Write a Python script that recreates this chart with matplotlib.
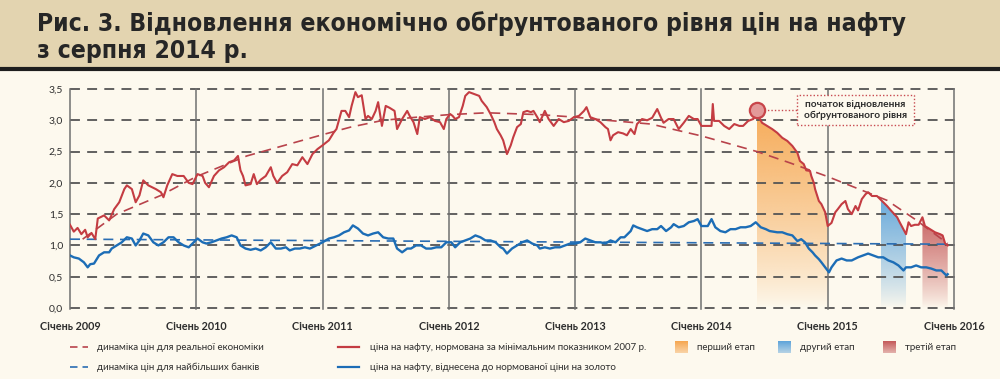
import numpy as np
import matplotlib
matplotlib.use("Agg")
import matplotlib.pyplot as plt
import matplotlib.colors as mcolors
from matplotlib.patches import Polygon, Rectangle

# ціна на нафту, нормована за мінімальним показником 2007 р.
oil_years = [
    2009.00, 2009.03, 2009.06, 2009.09, 2009.12, 2009.14, 2009.17, 2009.20, 2009.22, 2009.27,
    2009.31, 2009.35, 2009.39, 2009.43, 2009.45, 2009.49, 2009.52, 2009.55, 2009.58, 2009.62,
    2009.68, 2009.72, 2009.74, 2009.77, 2009.81, 2009.85, 2009.90, 2009.94, 2009.97, 2010.01,
    2010.05, 2010.07, 2010.10, 2010.14, 2010.18, 2010.22, 2010.26, 2010.30, 2010.33, 2010.35,
    2010.37, 2010.39, 2010.43, 2010.455, 2010.48, 2010.51, 2010.55, 2010.59, 2010.61, 2010.64,
    2010.68, 2010.72, 2010.76, 2010.80, 2010.84, 2010.88, 2010.92, 2010.96, 2011.00, 2011.05,
    2011.09, 2011.11, 2011.15, 2011.18, 2011.21, 2011.23, 2011.26, 2011.28, 2011.31, 2011.34,
    2011.36, 2011.39, 2011.42, 2011.44, 2011.47, 2011.50, 2011.53, 2011.57, 2011.59, 2011.63,
    2011.67, 2011.69, 2011.72, 2011.75, 2011.77, 2011.81, 2011.85, 2011.89, 2011.93, 2011.96,
    2011.98, 2012.01, 2012.03, 2012.05, 2012.08, 2012.11, 2012.13, 2012.16, 2012.20, 2012.24,
    2012.26, 2012.30, 2012.33, 2012.36, 2012.38, 2012.41, 2012.43, 2012.46, 2012.49, 2012.51,
    2012.54, 2012.57, 2012.59, 2012.62, 2012.65, 2012.67, 2012.70, 2012.72, 2012.76, 2012.79,
    2012.83, 2012.87, 2012.91, 2012.95, 2012.99, 2013.03, 2013.07, 2013.09, 2013.12, 2013.16,
    2013.20, 2013.24, 2013.26, 2013.28, 2013.30, 2013.34, 2013.38, 2013.41, 2013.44, 2013.47,
    2013.49, 2013.53, 2013.57, 2013.61, 2013.65, 2013.68, 2013.70, 2013.74, 2013.78, 2013.82,
    2013.86, 2013.90, 2013.94, 2013.97, 2014.00, 2014.05, 2014.08, 2014.09, 2014.10, 2014.14,
    2014.18, 2014.22, 2014.26, 2014.30, 2014.33, 2014.37, 2014.41, 2014.44, 2014.48, 2014.52,
    2014.56, 2014.60, 2014.64, 2014.68, 2014.72, 2014.76, 2014.78, 2014.81, 2014.83, 2014.86,
    2014.87, 2014.89, 2014.90, 2014.93, 2014.95, 2014.98, 2015.00, 2015.03, 2015.06, 2015.08,
    2015.11, 2015.14, 2015.16, 2015.19, 2015.22, 2015.24, 2015.27, 2015.30, 2015.32, 2015.35,
    2015.39, 2015.42, 2015.47, 2015.50, 2015.55, 2015.57, 2015.62, 2015.64, 2015.66, 2015.69,
    2015.72, 2015.75, 2015.77, 2015.81, 2015.85, 2015.89, 2015.91, 2015.93, 2015.95,
]
oil_values = [
    1.33, 1.22, 1.28, 1.18, 1.25, 1.13, 1.20, 1.10, 1.43, 1.48,
    1.40, 1.58, 1.69, 1.90, 1.96, 1.90, 1.69, 1.80, 2.04, 1.96,
    1.90, 1.85, 1.77, 1.96, 2.14, 2.11, 2.11, 2.00, 1.98, 2.14,
    2.11, 2.00, 1.93, 2.11, 2.20, 2.25, 2.33, 2.36, 2.43, 2.20,
    2.11, 1.96, 1.98, 2.14, 1.98, 2.05, 2.11, 2.25, 2.11, 2.00,
    2.11, 2.17, 2.30, 2.28, 2.41, 2.30, 2.46, 2.54, 2.60, 2.68,
    2.81, 2.86, 3.15, 3.15, 3.05, 3.23, 3.45, 3.37, 3.40, 3.02,
    3.07, 3.02, 3.15, 3.29, 2.91, 3.23, 3.20, 3.15, 2.86, 3.02,
    3.15, 3.07, 2.97, 2.78, 3.05, 3.02, 3.05, 2.99, 2.97, 2.86,
    3.02, 3.10, 3.07, 3.02, 3.05, 3.23, 3.39, 3.45, 3.42, 3.39,
    3.31, 3.21, 3.10, 2.97, 2.86, 2.76, 2.68, 2.46, 2.60, 2.73,
    2.89, 2.94, 3.13, 3.15, 3.13, 3.15, 3.05, 2.97, 3.15, 3.02,
    2.91, 3.02, 2.97, 2.99, 3.05, 3.07, 3.15, 3.21, 3.05, 3.02,
    2.97, 2.89, 2.86, 2.68, 2.76, 2.81, 2.79, 2.76, 2.86, 2.78,
    2.94, 3.02, 3.00, 3.04, 3.18, 3.04, 2.96, 3.02, 3.02, 2.86,
    2.96, 3.07, 3.02, 3.02, 2.91, 2.91, 2.91, 3.26, 2.99, 2.99,
    2.91, 2.86, 2.94, 2.91, 2.91, 2.99, 3.02, 3.10, 2.96, 2.91,
    2.86, 2.80, 2.72, 2.67, 2.59, 2.48, 2.35, 2.30, 2.20, 2.19,
    2.11, 2.00, 1.90, 1.71, 1.66, 1.53, 1.31, 1.36, 1.53, 1.58,
    1.66, 1.71, 1.58, 1.50, 1.63, 1.56, 1.74, 1.82, 1.85, 1.79,
    1.79, 1.73, 1.63, 1.56, 1.45, 1.37, 1.18, 1.37, 1.31, 1.33,
    1.33, 1.45, 1.31, 1.26, 1.21, 1.18, 1.16, 1.03, 1.00,
]

# ціна на нафту, віднесена до нормованої ціни на золото
gold_years = [
    2009.00, 2009.03, 2009.07, 2009.11, 2009.14, 2009.16, 2009.19, 2009.23, 2009.27, 2009.31,
    2009.33, 2009.37, 2009.41, 2009.45, 2009.49, 2009.52, 2009.55, 2009.58, 2009.62, 2009.66,
    2009.70, 2009.74, 2009.78, 2009.82, 2009.86, 2009.90, 2009.94, 2009.98, 2010.01, 2010.05,
    2010.08, 2010.12, 2010.16, 2010.20, 2010.24, 2010.28, 2010.32, 2010.35, 2010.39, 2010.43,
    2010.47, 2010.51, 2010.55, 2010.59, 2010.63, 2010.67, 2010.71, 2010.74, 2010.78, 2010.82,
    2010.86, 2010.90, 2010.95, 2011.00, 2011.05, 2011.09, 2011.13, 2011.17, 2011.21, 2011.24,
    2011.28, 2011.32, 2011.36, 2011.40, 2011.44, 2011.48, 2011.52, 2011.56, 2011.59, 2011.63,
    2011.67, 2011.70, 2011.74, 2011.78, 2011.82, 2011.86, 2011.90, 2011.94, 2011.98, 2012.02,
    2012.05, 2012.09, 2012.13, 2012.17, 2012.21, 2012.25, 2012.29, 2012.33, 2012.37, 2012.41,
    2012.43, 2012.46, 2012.50, 2012.54, 2012.58, 2012.62, 2012.66, 2012.70, 2012.72, 2012.76,
    2012.80, 2012.84, 2012.88, 2012.92, 2012.96, 2013.00, 2013.04, 2013.08, 2013.12, 2013.16,
    2013.20, 2013.24, 2013.28, 2013.32, 2013.36, 2013.39, 2013.44, 2013.46, 2013.49, 2013.53,
    2013.57, 2013.61, 2013.65, 2013.68, 2013.72, 2013.76, 2013.78, 2013.82, 2013.86, 2013.90,
    2013.94, 2013.97, 2014.00, 2014.05, 2014.08, 2014.11, 2014.15, 2014.19, 2014.23, 2014.27,
    2014.31, 2014.35, 2014.39, 2014.43, 2014.47, 2014.51, 2014.54, 2014.60, 2014.64, 2014.68,
    2014.72, 2014.76, 2014.79, 2014.82, 2014.85, 2014.88, 2014.90, 2014.93, 2014.95, 2014.98,
    2015.01, 2015.03, 2015.07, 2015.11, 2015.15, 2015.19, 2015.24, 2015.28, 2015.32, 2015.36,
    2015.40, 2015.44, 2015.48, 2015.52, 2015.56, 2015.60, 2015.62, 2015.66, 2015.70, 2015.74,
    2015.78, 2015.82, 2015.86, 2015.90, 2015.94, 2015.95,
]
gold_values = [
    0.84, 0.81, 0.79, 0.73, 0.65, 0.70, 0.71, 0.84, 0.89, 0.89,
    0.95, 1.00, 1.05, 1.13, 1.11, 1.00, 1.08, 1.19, 1.16, 1.05,
    1.00, 1.05, 1.13, 1.13, 1.05, 1.00, 0.97, 1.05, 1.11, 1.05,
    1.03, 1.05, 1.08, 1.11, 1.13, 1.16, 1.13, 1.00, 0.95, 0.93,
    0.95, 0.92, 0.97, 1.05, 0.95, 0.95, 0.97, 0.92, 0.95, 0.95,
    0.97, 0.95, 1.00, 1.05, 1.11, 1.13, 1.16, 1.21, 1.24, 1.32,
    1.27, 1.19, 1.16, 1.19, 1.21, 1.13, 1.11, 1.11, 0.95, 0.89,
    0.95, 0.95, 1.00, 1.00, 0.95, 0.95, 0.97, 0.97, 1.05, 1.05,
    0.97, 1.05, 1.08, 1.11, 1.16, 1.13, 1.08, 1.08, 1.05, 0.97,
    0.95, 0.87, 0.95, 1.00, 1.05, 1.08, 1.03, 1.00, 0.95, 0.97,
    0.95, 0.97, 0.97, 1.00, 1.03, 1.03, 1.05, 1.11, 1.08, 1.05,
    1.05, 1.03, 1.08, 1.05, 1.13, 1.13, 1.23, 1.32, 1.29, 1.26,
    1.23, 1.26, 1.26, 1.31, 1.23, 1.29, 1.34, 1.29, 1.31, 1.37,
    1.39, 1.42, 1.31, 1.31, 1.42, 1.29, 1.23, 1.21, 1.26, 1.26,
    1.29, 1.29, 1.31, 1.37, 1.29, 1.26, 1.23, 1.21, 1.21, 1.18,
    1.16, 1.07, 1.10, 1.05, 0.95, 0.89, 0.84, 0.78, 0.73, 0.65,
    0.57, 0.65, 0.76, 0.79, 0.76, 0.76, 0.81, 0.84, 0.87, 0.84,
    0.81, 0.81, 0.76, 0.73, 0.68, 0.60, 0.65, 0.65, 0.68, 0.65,
    0.65, 0.63, 0.60, 0.60, 0.52, 0.54,
]

# динаміка цін для реальної економіки
real_years = [2009.10, 2009.37, 2009.72, 2010.00, 2010.40, 2010.70, 2011.00, 2011.22, 2011.48,
              2011.75, 2012.00, 2012.30, 2012.72, 2013.00, 2013.25, 2013.60, 2013.83, 2014.00,
              2014.23, 2014.44, 2014.70, 2015.00, 2015.31, 2015.47, 2015.69, 2015.95]
real_values = [1.10, 1.50, 1.80, 2.10, 2.43, 2.60, 2.77, 2.89, 3.00,
               3.05, 3.09, 3.12, 3.09, 3.05, 3.00, 2.94, 2.83, 2.75,
               2.62, 2.50, 2.32, 2.10, 1.85, 1.72, 1.42, 1.03]

# динаміка цін для найбільших банків
bank_years = [2009.00, 2015.95]
bank_values = [1.10, 1.02]

# етапи (початок, кінець)
stages = [(2014.44, 2015.00), (2015.42, 2015.62), (2015.75, 2015.95)]
stage_colors = ["#f6a64f", "#5ea4da", "#c55a5a"]
stage_names = ["перший етап", "другий етап", "третій етап"]

start_point = (2014.44, 3.16)

year_ticks = list(range(2009, 2017))
year_labels = ["Січень %d" % y for y in year_ticks]
y_ticks = [0.0, 0.5, 1.0, 1.5, 2.0, 2.5, 3.0, 3.5]

title_lines = ["Рис. 3. Відновлення економічно обґрунтованого рівня цін на нафту",
               "з серпня 2014 р."]

RED = "#c43c42"
BLUE = "#1c6db6"
BG = "#fdf9ee"
TXT = "#2e2e2e"
LFONT = ["Lato", "DejaVu Sans"]

fig = plt.figure(figsize=(10, 3.79), dpi=100)
fig.patch.set_facecolor(BG)

# накладка в пікселях для заголовка і легенди
ov = fig.add_axes([0, 0, 1, 1], zorder=0)
ov.set_xlim(0, 1000)
ov.set_ylim(379, 0)
ov.axis("off")
ov.add_patch(Rectangle((0, 0), 1000, 67, facecolor="#e3d4b0", edgecolor="none"))
ov.plot([0, 1000], [68.5, 68.5], color="#1e1e1e", lw=3)
t1 = ov.text(37, 31, title_lines[0], fontsize=20, fontweight="bold", family="DejaVu Sans",
             fontstretch="condensed", color="#262626", va="baseline")
t2 = ov.text(37, 58, title_lines[1], fontsize=20, fontweight="bold", family="DejaVu Sans",
             fontstretch="condensed", color="#262626", va="baseline")
# підігнати розмір заголовка під ширину ~868 px
fig.canvas.draw()
w = t1.get_window_extent().width
fs = min(20, 20 * 868 / w)
t1.set_fontsize(fs)
t2.set_fontsize(fs)

ax = fig.add_axes([0.07, 1 - 308 / 379, 0.884, 219 / 379], zorder=1)
ax.set_facecolor("none")

oy = np.array(oil_years)
ov_vals = np.array(oil_values)


def stage_fill(x0, x1, color):
    m = (oy >= x0 - 1e-6) & (oy <= x1 + 1e-6)
    xs, ys = oy[m], ov_vals[m]
    verts = [(xs[0], 0)] + list(zip(xs, ys)) + [(xs[-1], 0)]
    poly = Polygon(verts, closed=True, facecolor="none", edgecolor="none")
    ax.add_patch(poly)
    grad = np.zeros((256, 1, 4))
    grad[:, 0, :3] = mcolors.to_rgb(color)
    t = np.linspace(1, 0, 256)
    grad[:, 0, 3] = 0.92 * t ** 0.8
    im = ax.imshow(grad, extent=[xs[0], xs[-1], 0, ys.max()], aspect="auto",
                   origin="upper", zorder=1, interpolation="bilinear")
    im.set_clip_path(poly)


for (x0, x1), c in zip(stages, stage_colors):
    stage_fill(x0, x1, c)

# сітка
for yv in y_ticks:
    ax.plot([2009, 2016.03], [yv, yv], color="#555555", lw=1.3, dashes=(5.5, 4),
            zorder=2, clip_on=False)
for xv in year_ticks:
    ax.plot([xv, xv], [-0.02, 3.5], color="#707070", lw=1.1, zorder=2, clip_on=False)

ax.plot(real_years, real_values, color="#b8434b", lw=1.2, dashes=(6, 4), zorder=3)
ax.plot(bank_years, bank_values, color="#2a6db3", lw=1.2, dashes=(6, 4), zorder=3)
ax.plot(oil_years, oil_values, color=RED, lw=1.5, zorder=4, solid_joinstyle="round")
ax.plot(gold_years, gold_values, color=BLUE, lw=1.7, zorder=4, solid_joinstyle="round")

# початок відновлення
ax.plot([start_point[0], 2014.756], [start_point[1], start_point[1]], color="#c84a50",
        lw=1, ls=(0, (1, 1.5)), zorder=4)
ax.plot(*start_point, marker="o", ms=11, mfc="#e39a9a", mec="#c8454a", mew=1.6,
        zorder=5, clip_on=False)
ax.add_patch(Rectangle((2014.756, 2.92), 0.927, 0.48, facecolor=BG, edgecolor="#c84a50",
                       lw=1, ls=(0, (1, 1.5)), zorder=5))
ax.text(2015.22, 3.16, "початок відновлення\nобґрунтованого рівня", ha="center",
        va="center", fontsize=7.3, fontweight="bold", family=LFONT, color=TXT,
        linespacing=1.3, zorder=6)

ax.set_xlim(2009, 2016)
ax.set_ylim(0, 3.5)
for s in ax.spines.values():
    s.set_visible(False)
ax.set_yticks(y_ticks)
ax.set_yticklabels([("%.1f" % v).replace(".", ",") for v in y_ticks],
                   family=LFONT, fontsize=7.5, color=TXT)
ax.set_xticks(year_ticks)
ax.set_xticklabels(year_labels, family=LFONT, fontsize=7.8, fontweight="bold", color=TXT)
ax.tick_params(axis="both", length=0)
ax.tick_params(axis="y", pad=5)
ax.tick_params(axis="x", pad=9)

# легенда
lg_y1, lg_y2 = 347, 367
lfs = 7.0
ov.plot([70, 88], [lg_y1, lg_y1], color="#b8434b", lw=1.2, dashes=(4.5, 3))
ov.plot([70, 88], [lg_y2, lg_y2], color="#2a6db3", lw=1.2, dashes=(4.5, 3))
ov.plot([338, 359], [lg_y1, lg_y1], color=RED, lw=1.6)
ov.plot([338, 359], [lg_y2, lg_y2], color=BLUE, lw=1.6)
ov.text(97, lg_y1, "динаміка цін для реальної економіки", va="center", fontsize=lfs,
        family=LFONT, color=TXT)
ov.text(97, lg_y2, "динаміка цін для найбільших банків", va="center", fontsize=lfs,
        family=LFONT, color=TXT)
ov.text(370, lg_y1, "ціна на нафту, нормована за мінімальним показником 2007 р.",
        va="center", fontsize=lfs, family=LFONT, color=TXT)
ov.text(370, lg_y2, "ціна на нафту, віднесена до нормованої ціни на золото",
        va="center", fontsize=lfs, family=LFONT, color=TXT)
for sx, c, name in zip([675, 778, 883], stage_colors, stage_names):
    g = np.zeros((32, 1, 4))
    g[:, 0, :3] = mcolors.to_rgb(c)
    g[:, 0, 3] = np.linspace(1.0, 0.45, 32)
    ov.imshow(g, extent=[sx, sx + 13, lg_y1 + 6, lg_y1 - 6], aspect="auto",
              origin="upper", interpolation="bilinear")
    ov.text(sx + 22, lg_y1, name, va="center", fontsize=lfs, family=LFONT, color=TXT)
ov.set_xlim(0, 1000)
ov.set_ylim(379, 0)

fig.savefig("out.png", dpi=100, facecolor=BG)
